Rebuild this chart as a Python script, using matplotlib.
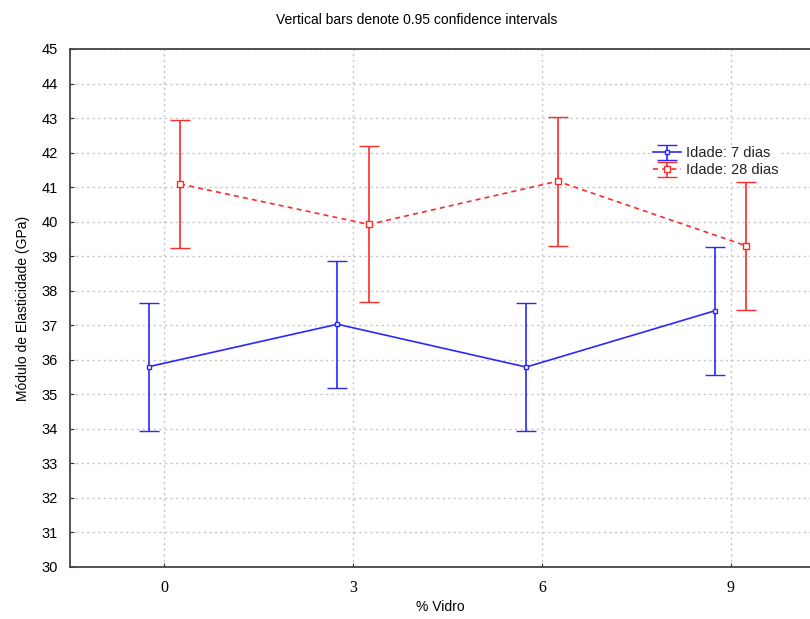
import numpy as np
import matplotlib
matplotlib.use("Agg")
import matplotlib.pyplot as plt

# dados
vidro = [0, 3, 6, 9]
media_7 = [35.8, 37.03, 35.79, 37.42]
ic_7 = [1.85, 1.84, 1.86, 1.85]
media_28 = [41.09, 39.92, 41.17, 39.30]
ic_28 = [1.85, 2.26, 1.87, 1.85]
rotulos = ["Idade: 7 dias", "Idade: 28 dias"]

azul = "#2828ff"
vermelho = "#ff2a2a"

fig = plt.figure(figsize=(8.10, 6.19), dpi=100)
ax = fig.add_axes([70 / 810, (619 - 567) / 619, (825 - 70) / 810, (567 - 49) / 619])

x = np.array(vidro, dtype=float)

# --- séries com barras de erro ---
ax.errorbar(x - 0.25, media_7, yerr=ic_7, color=azul, lw=1.2, elinewidth=1.2,
            capsize=7.5, capthick=1.2, marker="s", ms=3.5, mfc="white", mec=azul,
            mew=1.0, label=rotulos[0], zorder=3)
ax.errorbar(x + 0.25, media_28, yerr=ic_28, color=vermelho, lw=1.2, elinewidth=1.2,
            capsize=7.5, capthick=1.2, marker="s", ms=4.5, mfc="white", mec=vermelho,
            mew=1.0, ls=(0, (3, 2.5)), label=rotulos[1], zorder=3)

# --- eixos ---
ax.set_xlim(-1.5, 10.5)
ax.set_ylim(30, 45)
ax.set_xticks(vidro)
ax.set_yticks(np.arange(30, 46, 1))
ax.grid(True, color="#c4c4c4", linestyle=(0, (1.5, 2.5)), linewidth=1.0)
ax.set_axisbelow(True)

for s in ax.spines.values():
    s.set_color("#444444")
    s.set_linewidth(1.3)

ax.tick_params(axis="both", direction="in", length=3, color="#333333")
ax.tick_params(axis="x", pad=9)
ax.tick_params(axis="y", pad=9)
for lb in ax.get_xticklabels():
    lb.set_fontfamily("Liberation Serif")
    lb.set_fontsize(11.5)
for lb in ax.get_yticklabels():
    lb.set_fontfamily("Liberation Sans")
    lb.set_fontsize(10.5)

ax.set_ylabel("Módulo de Elasticidade (GPa)", fontfamily="Liberation Sans",
              fontsize=10, labelpad=8)

fig.text(440 / 810, 1 - 607 / 619, "% Vidro", ha="center", va="center",
         fontfamily="Liberation Sans", fontsize=10)
fig.text(417 / 810, 1 - 20 / 619, "Vertical bars denote 0.95 confidence intervals",
         ha="center", va="center", fontfamily="Liberation Sans", fontsize=10)

leg = ax.legend(loc="upper left", bbox_to_anchor=((652 - 70) / 755, 1 - (145 - 49) / 518),
                frameon=True, framealpha=1, edgecolor="none", fancybox=False,
                prop={"family": "Liberation Sans", "size": 10.5},
                handlelength=1.9, handletextpad=0.3, labelspacing=0.2,
                borderpad=0.1, borderaxespad=0)
for t in leg.get_texts():
    t.set_color("#222222")

fig.savefig("out.png", dpi=100)
